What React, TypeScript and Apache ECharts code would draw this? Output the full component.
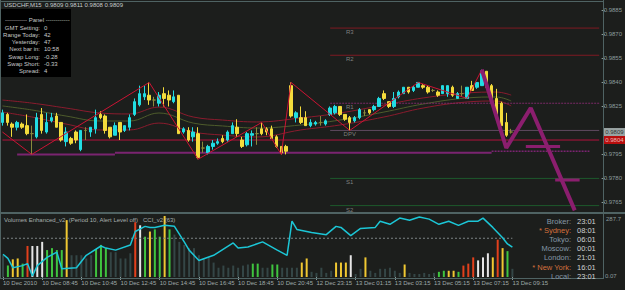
import React, { useEffect, useRef } from "react";
import * as echarts from "echarts";

// ---------- data ----------
const opens = [0.9815,0.9820,0.9814,0.9812,0.9814,0.9813,0.9808,0.9806,0.9820,0.9809,0.9816,0.9819,0.9815,0.9803,0.9805,0.9809,0.9798,0.9810,0.9809,0.9811,0.9820,0.9819,0.9812,0.9807,0.9815,0.9810,0.9812,0.9820,0.9826,0.9831,0.9832,0.9829,0.9827,0.9833,0.9832,0.9828,0.9832,0.9809,0.9810,0.9806,0.9808,0.9799,0.9796,0.9800,0.9802,0.9805,0.9804,0.9808,0.9812,0.9804,0.9801,0.9807,0.9808,0.9811,0.9811,0.9811,0.9806,0.9800,0.9800,0.9838,0.9818,0.9818,0.9818,0.9813,0.9814,0.9815,0.9814,0.9820,0.9821,0.9825,0.9820,0.9818,0.9816,0.9818,0.9821,0.9823,0.9823,0.9825,0.9833,0.9828,0.9825,0.9831,0.9833,0.9837,0.9835,0.9837,0.9838,0.9837,0.9835,0.9834,0.9833,0.9833,0.9837,0.9830,0.9833,0.9830,0.9838,0.9837,0.9838,0.9847,0.9838,0.9830,0.9827,0.9815,0.9809];
const highs = [0.9823,0.9821,0.9815,0.9816,0.9815,0.9820,0.9813,0.9821,0.9824,0.9821,0.9821,0.9821,0.9815,0.9812,0.9806,0.9810,0.9810,0.9812,0.9812,0.9823,0.9822,0.9820,0.9812,0.9815,0.9815,0.9813,0.9820,0.9830,0.9838,0.9838,0.9840,0.9831,0.9834,0.9837,0.9835,0.9835,0.9832,0.9812,0.9812,0.9812,0.9812,0.9803,0.9801,0.9804,0.9805,0.9807,0.9810,0.9815,0.9817,0.9806,0.9809,0.9810,0.9812,0.9815,0.9812,0.9813,0.9807,0.9800,0.9801,0.9840,0.9822,0.9825,0.9822,0.9817,0.9816,0.9819,0.9817,0.9825,0.9826,0.9825,0.9820,0.9819,0.9819,0.9824,0.9823,0.9823,0.9826,0.9831,0.9835,0.9828,0.9834,0.9835,0.9837,0.9837,0.9838,0.9840,0.9839,0.9838,0.9836,0.9835,0.9838,0.9838,0.9838,0.9834,0.9838,0.9837,0.9841,0.9840,0.9848,0.9847,0.9839,0.9836,0.9828,0.9821,0.9811];
const lows = [0.9813,0.9813,0.9806,0.9810,0.9811,0.9807,0.9795,0.9805,0.9808,0.9808,0.9815,0.9812,0.9803,0.9800,0.9801,0.9802,0.9797,0.9804,0.9806,0.9808,0.9817,0.9808,0.9805,0.9807,0.9804,0.9809,0.9810,0.9819,0.9825,0.9829,0.9826,0.9825,0.9825,0.9825,0.9825,0.9827,0.9808,0.9808,0.9803,0.9803,0.9792,0.9796,0.9795,0.9798,0.9801,0.9802,0.9803,0.9808,0.9806,0.9799,0.9800,0.9800,0.9801,0.9807,0.9807,0.9805,0.9799,0.9795,0.9795,0.9818,0.9815,0.9814,0.9813,0.9812,0.9813,0.9813,0.9813,0.9819,0.9820,0.9819,0.9816,0.9810,0.9815,0.9817,0.9819,0.9820,0.9822,0.9825,0.9829,0.9824,0.9824,0.9830,0.9833,0.9833,0.9834,0.9837,0.9836,0.9833,0.9834,0.9831,0.9833,0.9831,0.9831,0.9830,0.9831,0.9830,0.9835,0.9836,0.9838,0.9836,0.9827,0.9819,0.9813,0.9806,0.9808];
const closes = [0.9821,0.9815,0.9812,0.9815,0.9812,0.9808,0.9808,0.9818,0.9810,0.9815,0.9818,0.9812,0.9804,0.9809,0.9802,0.9804,0.9810,0.9810,0.9812,0.9818,0.9818,0.9810,0.9806,0.9813,0.9809,0.9813,0.9818,0.9828,0.9833,0.9833,0.9829,0.9829,0.9832,0.9830,0.9829,0.9831,0.9808,0.9811,0.9804,0.9809,0.9793,0.9799,0.9800,0.9802,0.9803,0.9803,0.9809,0.9813,0.9808,0.9800,0.9808,0.9808,0.9808,0.9808,0.9809,0.9805,0.9800,0.9796,0.9797,0.9819,0.9821,0.9815,0.9813,0.9815,0.9815,0.9815,0.9816,0.9824,0.9825,0.9820,0.9817,0.9815,0.9818,0.9823,0.9821,0.9821,0.9825,0.9830,0.9830,0.9825,0.9830,0.9834,0.9837,0.9834,0.9837,0.9840,0.9837,0.9834,0.9835,0.9832,0.9838,0.9838,0.9832,0.9833,0.9833,0.9837,0.9835,0.9840,0.9847,0.9837,0.9828,0.9820,0.9813,0.9807,0.9809];

const SLOTS = 123;

const maIdx = [0,6,13,20,26,32,39,45,52,61,69,78,86,95,101,104];
const maUpper = [0.98290,0.98271,0.98240,0.98209,0.98203,0.98246,0.98184,0.98165,0.98153,0.98178,0.98209,0.98259,0.98303,0.98334,0.98340,0.98321];
const maMiddle = [0.98253,0.98228,0.98190,0.98159,0.98159,0.98209,0.98146,0.98128,0.98115,0.98134,0.98165,0.98215,0.98265,0.98303,0.98309,0.98284];
const maLower = [0.98215,0.98184,0.98140,0.98103,0.98103,0.98146,0.98090,0.98071,0.98059,0.98103,0.98134,0.98184,0.98240,0.98278,0.98284,0.98253];

const zigIdx = [0,6,30,40,53,57,59,71,85,95,98];
const zigVal = [0.9809,0.9795,0.9840,0.9792,0.9815,0.9795,0.9840,0.9810,0.9840,0.9830,0.9848];

const projIdx = [98,103,108,117];
const projVal = [0.9848,0.9799,0.9824,0.9760];
const projLevels = [
  { from: 107, to: 114, value: 0.9800 },
  { from: 113, to: 118, value: 0.9779 },
];

const supportSegs = [
  { from: 3, to: 23, value: 0.9795, dotted: false },
  { from: 23, to: 100, value: 0.9796, dotted: false },
  { from: 100, to: 120, value: 0.9797, dotted: true },
];

const pivotNames = ["R3","R2","R1","DPV","S1","S2"];
const pivotValues = [0.9874,0.9857,0.9827,0.9810,0.9780,0.9763];
const pivotColors = ["#7e1a22","#7e1a22","#7a2a66","#5e4a60","#1d5a2c","#1d5a2c"];
const pivotStart = 67;
const pivotLabelAt = 71;

const redLevel = 0.9804;
const bidPrice = 0.9809;

const priceTicks = [0.9885,0.9870,0.9855,0.9840,0.9825,0.9795,0.9780,0.9765];

const volumes = [101,53,82,86,62,144,144,144,163,125,134,125,125,264,101,101,101,86,101,130,149,134,115,115,86,86,110,254,240,187,211,221,187,283,221,197,163,149,134,134,101,86,91,67,43,53,43,53,43,53,58,62,62,43,43,58,58,43,43,43,43,67,86,24,19,43,19,29,67,67,67,101,14,38,91,29,19,38,38,43,29,19,58,19,14,14,19,14,19,24,29,29,29,24,53,62,91,77,91,110,91,173,134,120,38];
const volKinds = ("gnyynrwwwn" + "nnnygggggn" + "nngggggrwn" + "ynnynggggg" + "gggggggggg" + "gnnggnnggg" + "gyygggggyy" + "ywggyggggg" + "ggyggggggn" + "nyynrrrwww" + "yryng").split("");
const volMax = 287.7;

const cciIdx = [0,1,2,4,5,6,7,9,11,12,15,17,20,21,23,26,27,29,30,31,33,35,37,38,40,43,47,48,50,53,56,58,59,60,63,66,68,69,71,73,76,77,79,81,83,85,87,89,91,93,95,97,98,100,102,103,104];
const cciVal = [-24,-56,-128,-112,-96,-192,-112,-48,-8,-136,-128,-32,40,24,8,48,152,192,184,184,200,192,72,8,-72,-32,64,24,32,72,8,-32,232,168,144,128,192,184,120,176,184,232,208,256,240,264,248,208,232,200,232,232,256,184,104,56,32];
const cciLevel = 100;

const timeTickIndex = [0,8,16,24,32,40,48,56,64,72,80,88,96,104];
const timeTickLabels = ["10 Dec 2010","10 Dec 08:45","10 Dec 10:45","10 Dec 12:45","10 Dec 14:45","10 Dec 16:45","10 Dec 18:45","10 Dec 20:45","12 Dec 23:15","13 Dec 01:15","13 Dec 03:15","13 Dec 05:15","13 Dec 07:15","13 Dec 09:15"];

const headerText = "USDCHF,M15  0.9809 0.9811 0.9808 0.9809";
const panelLabels = ["GMT Setting:","Range Today:","Yesterday:","Next bar in:","Swap Long:","Swap Short:","Spread:"];
const panelValues = ["0","42","47","10:58","-0.28","-0.33","4"];
const tzLabels = ["Broker:","* Sydney:","Tokyo:","Moscow:","London:","* New York:","Local:"];
const tzTimes = ["23:01","08:01","06:01","00:01","21:01","16:01","23:01"];
const tzMarked = [false,true,false,false,false,true,false];
const subTitle = "Volumes Enhanced_v2  (Period 10, Alert Level off)";
const cciTitle = "CCI_v2 (63)";
const subMaxLabel = "287.7";
const subMinLabel = "0.07";

// ---------- styles ----------
const BG = "#1c1e1c";
const FRAME = "#4f6363";
const AXIS_TXT = "#8c9c9c";
const FONT = "Liberation Sans";
const BULL = "#22dde3";
const BEAR = "#f4dc3c";
const DOJI = "#8a8a3c";
const MAGENTA = "#8b1e6e";
const volColorMap: Record<string, string> = {
  g: "#344646",
  n: "#3fc43f",
  y: "#f0c832",
  w: "#e6e6e6",
  r: "#e2401c",
};

function buildOption() {
  const cats = Array.from({ length: SLOTS }, (_, i) => String(i));
  const pairs = (idx: number[], vals: number[]) => idx.map((x, i) => [x, vals[i]]);
  const tickSet: Record<number, string> = {};
  timeTickIndex.forEach((t, i) => (tickSet[t] = timeTickLabels[i]));

  const candleData = opens.map((o, i) => {
    const item: any = { value: [o, closes[i], lows[i], highs[i]] };
    if (o === closes[i]) {
      item.itemStyle = { color: DOJI, color0: DOJI, borderColor: DOJI, borderColor0: DOJI };
    }
    return item;
  });

  const lineBase = (data: any[], color: string, width: number, extra: any = {}) => ({
    type: "line",
    xAxisIndex: 0,
    yAxisIndex: 0,
    data,
    symbol: "none",
    silent: true,
    lineStyle: { color, width, ...(extra.lineStyle || {}) },
    ...(extra.smooth ? { smooth: extra.smooth } : {}),
    z: extra.z ?? 2,
  });

  const series: any[] = [];
  series.push(lineBase(pairs(maIdx, maUpper), "#8a1c2e", 1, { smooth: 0.4 }));
  series.push(lineBase(pairs(maIdx, maMiddle), "#4e5c2c", 1, { smooth: 0.4 }));
  series.push(lineBase(pairs(maIdx, maLower), "#8a1c2e", 1, { smooth: 0.4 }));

  pivotValues.forEach((v, i) => {
    series.push(
      lineBase([[pivotStart, v], [SLOTS - 1, v]], pivotColors[i], 1, {
        lineStyle: i === 2 ? { type: [2, 1] } : {},
      })
    );
  });

  series.push(lineBase([[0, redLevel], [SLOTS - 1, redLevel]], "#b3123c", 1));

  supportSegs.forEach((s) => {
    series.push(
      lineBase([[s.from, s.value], [s.to, s.value]], "#7a2470", s.dotted ? 1.5 : 2, {
        lineStyle: s.dotted ? { type: [2, 1] } : {},
      })
    );
  });

  series.push({
    type: "candlestick",
    xAxisIndex: 0,
    yAxisIndex: 0,
    data: candleData,
    barWidth: 3,
    silent: true,
    z: 3,
    itemStyle: { color: BULL, color0: BEAR, borderColor: BULL, borderColor0: BEAR, borderWidth: 1 },
  });

  series.push(lineBase(pairs(zigIdx, zigVal), "#cc1434", 1, { z: 4 }));
  series.push(lineBase(pairs(projIdx, projVal), MAGENTA, 4, { z: 5 }));
  projLevels.forEach((p) => {
    series.push(lineBase([[p.from, p.value], [p.to, p.value]], MAGENTA, 3, { z: 5 }));
  });

  series.push({
    type: "scatter",
    xAxisIndex: 0,
    yAxisIndex: 0,
    symbolSize: 0,
    silent: true,
    z: 6,
    data: pivotNames.map((n, i) => ({ name: n, value: [pivotLabelAt, pivotValues[i]] })),
    label: {
      show: true,
      position: "bottom",
      distance: 1,
      formatter: (p: any) => p.name,
      color: "#9a9a9a",
      fontSize: 6,
      fontFamily: FONT,
    },
  });

  // price boxes on the right axis
  const box = (v: number, bg: string, fg: string) => ({
    value: [SLOTS - 1, v],
    label: {
      show: true,
      position: "right",
      distance: 4,
      formatter: v.toFixed(4),
      backgroundColor: bg,
      color: fg,
      fontSize: 6,
      fontFamily: FONT,
      padding: [1, 3, 1, 2],
    },
  });
  series.push({
    type: "scatter",
    xAxisIndex: 0,
    yAxisIndex: 0,
    symbolSize: 0,
    silent: true,
    clip: false,
    z: 10,
    data: [box(bidPrice, "#b9c6c6", "#111111"), box(redLevel, "#e00a0a", "#ffe0e0")],
  });

  // lower panel
  series.push({
    type: "bar",
    xAxisIndex: 1,
    yAxisIndex: 1,
    barWidth: 2,
    silent: true,
    data: volumes.map((v, i) => ({ value: v, itemStyle: { color: volColorMap[volKinds[i]] } })),
  });
  series.push({
    type: "line",
    xAxisIndex: 1,
    yAxisIndex: 2,
    symbol: "none",
    silent: true,
    data: [[0, cciLevel], [opens.length - 1, cciLevel]],
    lineStyle: { color: "#7d8585", width: 1, type: [2, 2] },
    z: 3,
  });
  series.push({
    type: "line",
    xAxisIndex: 1,
    yAxisIndex: 2,
    symbol: "none",
    silent: true,
    data: pairs(cciIdx, cciVal),
    lineStyle: { color: "#1cc6d6", width: 1.5 },
    z: 4,
  });

  const graphic: any[] = [];
  const txt = (x: number, y: number, text: string, fill: string, size: number, align = "left") => ({
    type: "text",
    x,
    y,
    silent: true,
    z: 100,
    style: { text, fill, fontSize: size, fontFamily: FONT, align, verticalAlign: "middle" },
  });
  const ln = (x1: number, y1: number, x2: number, y2: number, w = 1, c = FRAME) => ({
    type: "line",
    silent: true,
    z: 90,
    shape: { x1, y1, x2, y2 },
    style: { stroke: c, lineWidth: w },
  });

  graphic.push(ln(0, 1.5, 604, 1.5));
  graphic.push(ln(0.5, 0, 0.5, 279));
  graphic.push(ln(603.5, 0, 603.5, 279));
  graphic.push(ln(0, 213, 625, 213, 2));
  graphic.push(ln(0, 278.5, 604, 278.5));

  graphic.push(txt(4, 5, headerText, "#c6cccc", 6));
  graphic.push({
    type: "rect",
    silent: true,
    z: 95,
    shape: { x: 1, y: 9, width: 70, height: 68 },
    style: { fill: "#000" },
  });
  graphic.push(txt(5, 20, "----------- Panel ------------", "#c8c8c8", 6));
  panelLabels.forEach((l, i) => {
    const y = 27.5 + i * 7.3;
    graphic.push(txt(40, y, l, "#c8c8c8", 6, "right"));
    graphic.push(txt(44, y, panelValues[i], "#c8c8c8", 6));
  });

  graphic.push(txt(4, 220, subTitle, "#a6aeae", 6));
  graphic.push(txt(143, 220, cciTitle, "#a6aeae", 6));
  graphic.push(txt(606, 219, subMaxLabel, AXIS_TXT, 6));
  graphic.push(txt(605, 276, subMinLabel, AXIS_TXT, 6));

  tzLabels.forEach((l, i) => {
    const y = 221 + i * 9.2;
    graphic.push(txt(571, y, l, tzMarked[i] ? "#d4703c" : "#8597a6", 7.5, "right"));
    graphic.push(txt(577, y, tzTimes[i], "#cfd2d2", 7.5));
  });

  return {
    animation: false,
    backgroundColor: BG,
    textStyle: { fontFamily: FONT },
    grid: [
      { left: 0, right: 22, top: 2, height: 210 },
      { left: 0, right: 22, top: 215, height: 62 },
    ],
    xAxis: [
      {
        type: "category",
        gridIndex: 0,
        data: cats,
        boundaryGap: true,
        axisLine: { show: false },
        axisTick: { show: false },
        axisLabel: { show: false },
        splitLine: { show: false },
      },
      {
        type: "category",
        gridIndex: 1,
        data: cats,
        boundaryGap: true,
        axisLine: { show: false },
        axisTick: {
          show: true,
          alignWithLabel: true,
          length: 3,
          interval: (i: number) => tickSet[i] !== undefined,
          lineStyle: { color: AXIS_TXT },
        },
        axisLabel: {
          show: true,
          interval: (i: number) => tickSet[i] !== undefined,
          formatter: (_v: string, i: number) => tickSet[i] ?? "",
          align: "left",
          margin: 3,
          color: "#9fa9a9",
          fontSize: 6,
          fontFamily: FONT,
        },
        splitLine: { show: false },
      },
    ],
    yAxis: [
      {
        type: "value",
        gridIndex: 0,
        position: "right",
        min: 0.9759,
        max: 0.98903,
        axisLine: { show: false },
        splitLine: { show: false },
        axisTick: { show: true, length: 3, customValues: priceTicks, lineStyle: { color: AXIS_TXT } },
        axisLabel: {
          show: true,
          customValues: priceTicks,
          formatter: (v: number) => v.toFixed(4),
          color: AXIS_TXT,
          fontSize: 6,
          fontFamily: FONT,
          margin: 2,
        },
      },
      { type: "value", gridIndex: 1, min: 0, max: volMax, show: false },
      { type: "value", gridIndex: 1, min: -200, max: 280, show: false },
    ],
    series,
    graphic,
  };
}

export default function App() {
  const ref = useRef<HTMLDivElement>(null);
  useEffect(() => {
    document.body.style.margin = "0";
    document.body.style.background = BG;
    const chart = echarts.init(ref.current!, null, { renderer: "svg" });
    chart.setOption(buildOption() as any);
    return () => chart.dispose();
  }, []);
  return <div ref={ref} style={{ width: 625, height: 290, background: BG }} />;
}
